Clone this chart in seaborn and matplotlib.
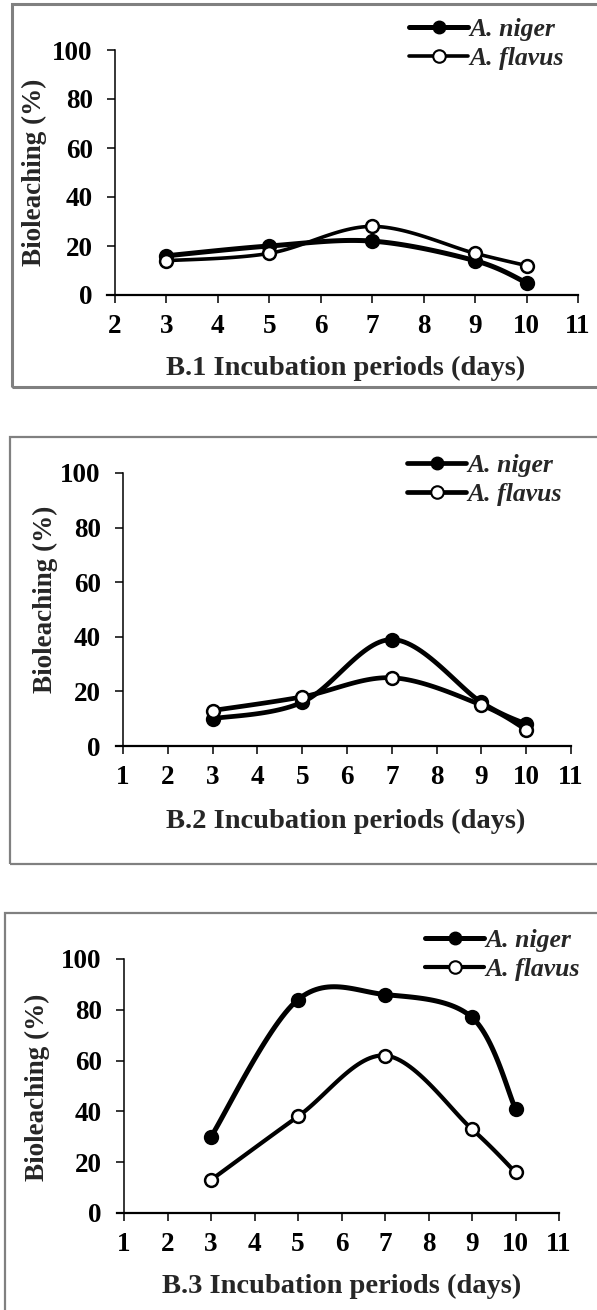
import numpy as np
import pandas as pd
import matplotlib
matplotlib.use("Agg")
import matplotlib.pyplot as plt
from matplotlib.lines import Line2D
from matplotlib.patches import Rectangle
import seaborn as sns

# ---------------- data ----------------
days = [3, 5, 7, 9, 10]
b1_niger = [16, 20, 22, 14, 5]
b1_flavus = [14, 17, 28, 17, 12]
b2_niger = [10, 16, 39, 16, 8]
b2_flavus = [13, 18, 25, 15, 6]
b3_niger = [30, 84, 86, 77, 41]
b3_flavus = [13, 38, 62, 33, 16]
series_names = ["A. niger", "A. flavus"]
panel_titles = ["B.1 Incubation periods (days)",
                "B.2 Incubation periods (days)",
                "B.3 Incubation periods (days)"]
y_label = "Bioleaching (%)"
y_ticks = [0, 20, 40, 60, 80, 100]
x_ranges = [(2, 11), (1, 11), (1, 11)]

sns.set_theme(style="ticks")
plt.rcParams["font.family"] = ["Liberation Serif", "DejaVu Serif"]
plt.rcParams["font.weight"] = "bold"

W, H = 597, 1310
fig = plt.figure(figsize=(W / 100, H / 100), dpi=100)


def smooth(x, y, n=30):
    """Excel-like smoothed line through the data points (Bezier, Catmull-Rom control)."""
    x = np.asarray(x, float)
    y = np.asarray(y, float)
    P = np.column_stack([x, y])
    Pe = np.vstack([P[0], P, P[-1]])
    out = []
    t = np.linspace(0, 1, n)
    for i in range(len(P) - 1):
        p0, p1, p2, p3 = Pe[i], Pe[i + 1], Pe[i + 2], Pe[i + 3]
        c1 = p1 + (p2 - p0) / 6.0
        c2 = p2 - (p3 - p1) / 6.0
        seg = ((1 - t) ** 3)[:, None] * p1 + (3 * (1 - t) ** 2 * t)[:, None] * c1 \
            + (3 * (1 - t) * t ** 2)[:, None] * c2 + (t ** 3)[:, None] * p2
        out.append(seg if i == 0 else seg[1:])
    s = np.vstack(out)
    return s[:, 0], s[:, 1]


def px_axes(l, r, b, t):
    return [l / W, 1 - b / H, (r - l) / W, (b - t) / H]


panels = [
    dict(rect=px_axes(115, 578, 295, 50), niger=b1_niger, flavus=b1_flavus,
         ylab=(-0.173, 0.50), xlab=(0.499, -0.298), leg=(409, 18),
         frame=(12, 4, 620, 387), frame_lw=2.2, nlw=3.6, flw=2.6),
    dict(rect=px_axes(123, 571, 746, 473), niger=b2_niger, flavus=b2_flavus,
         ylab=(-0.174, 0.538), xlab=(0.498, -0.278), leg=(407, 454),
         frame=(10, 437, 620, 864), frame_lw=1.6, nlw=3.4, flw=3.4),
    dict(rect=px_axes(124, 559, 1213, 959), niger=b3_niger, flavus=b3_flavus,
         ylab=(-0.20, 0.496), xlab=(0.501, -0.291), leg=(425, 929),
         frame=(5, 913, 620, 1340), frame_lw=1.6, nlw=3.6, flw=3.0),
]

for k, p in enumerate(panels):
    # gray frame around each panel
    fl, ft, fr, fb = p["frame"]
    fig.patches.append(Rectangle((fl / W, 1 - fb / H), (fr - fl) / W, (fb - ft) / H,
                                 transform=fig.transFigure, fill=False,
                                 edgecolor="#808080", linewidth=p["frame_lw"], zorder=0))
    ax = fig.add_axes(p["rect"])
    ax.set_facecolor("none")

    for name, vals, lw, face in [(series_names[0], p["niger"], p["nlw"], "black"),
                                 (series_names[1], p["flavus"], p["flw"], "white")]:
        sx, sy = smooth(days, vals)
        df_line = pd.DataFrame({"x": sx, "y": sy})
        sns.lineplot(data=df_line, x="x", y="y", sort=False, color="black",
                     linewidth=lw, ax=ax, zorder=3, legend=False)
        df_pts = pd.DataFrame({"x": days, "y": vals})
        sns.scatterplot(data=df_pts, x="x", y="y", s=85, color=face,
                        edgecolor="black", linewidth=1.8, ax=ax, zorder=4, legend=False)

    xmin, xmax = x_ranges[k]
    ax.set_xlim(xmin, xmax)
    ax.set_ylim(0, 100)
    ax.set_xticks(range(xmin, xmax + 1))
    ax.set_yticks(y_ticks)
    ax.tick_params(axis="both", direction="out", length=6, width=1.1,
                   labelsize=19.5, colors="black")
    ax.tick_params(axis="x", pad=8)
    ax.tick_params(axis="y", pad=10)
    for lab in ax.get_xticklabels() + ax.get_yticklabels():
        lab.set_fontweight("bold")
    sns.despine(ax=ax)
    ax.spines["left"].set_linewidth(1.1)
    ax.spines["bottom"].set_linewidth(1.6)
    ax.spines["left"].set_color("black")
    ax.spines["bottom"].set_color("black")
    ax.spines["bottom"].set_bounds(xmin - 0.15, xmax)

    ax.set_ylabel(y_label, fontsize=19.5, fontweight="bold")
    ax.set_xlabel(panel_titles[k], fontsize=20.5, fontweight="bold")
    ax.yaxis.set_label_coords(*p["ylab"])
    ax.xaxis.set_label_coords(*p["xlab"])
    ax.yaxis.label.set_va("center")
    ax.yaxis.label.set_ha("center")
    ax.xaxis.label.set_va("center")

    handles = [Line2D([], [], color="black", lw=p["nlw"], marker="o", markersize=9,
                      markerfacecolor="black", markeredgecolor="black"),
               Line2D([], [], color="black", lw=p["flw"], marker="o", markersize=9,
                      markerfacecolor="white", markeredgecolor="black", markeredgewidth=1.5)]
    lx, ly = p["leg"]
    fig.legend(handles, series_names, loc="upper left",
               bbox_to_anchor=(lx / W, 1 - ly / H), bbox_transform=fig.transFigure,
               frameon=False, borderpad=0, borderaxespad=0, handlelength=2.3,
               handletextpad=0.05, labelspacing=0.25,
               prop=dict(family="Liberation Serif", style="italic", weight="bold", size=18.5))

fig.savefig("out.png", dpi=100)
